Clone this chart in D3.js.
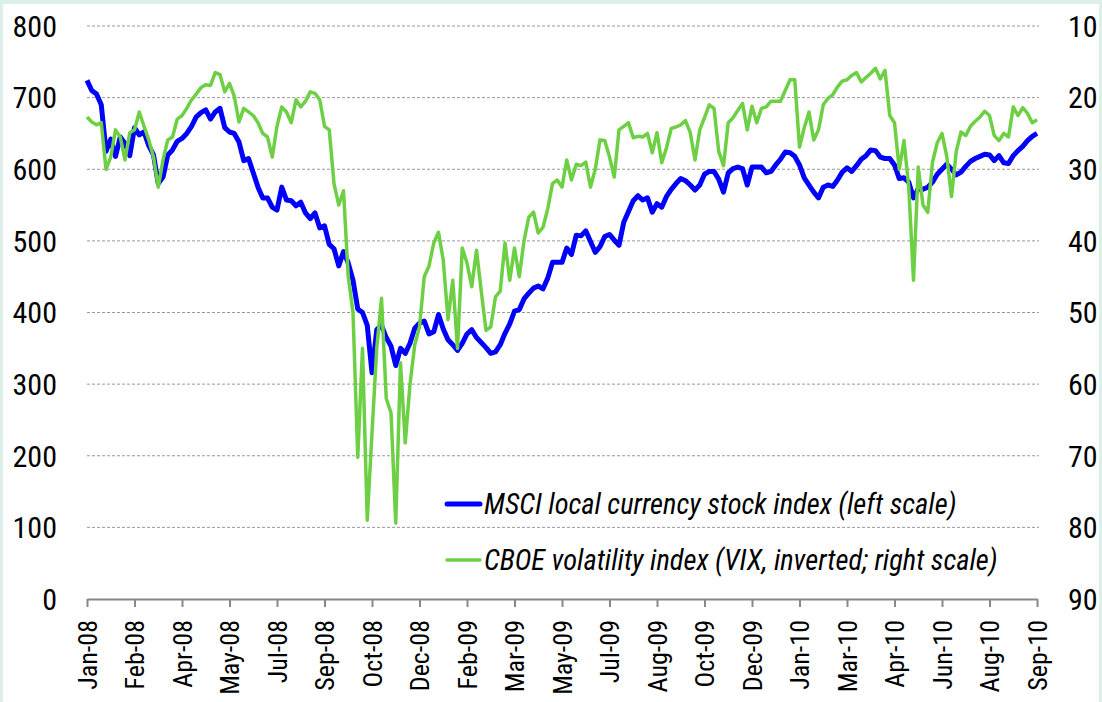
<!DOCTYPE html>
<html>
<head>
<meta charset="utf-8">
<script src="https://cdn.jsdelivr.net/npm/d3@7"></script>
<style>
    body { margin: 0; background: #dcf0e9; }
    #chart-area { width: 1102px; height: 702px; }
    text { font-family: "Roboto Condensed", "Liberation Sans Narrow", "DejaVu Sans Condensed", sans-serif; fill: #000; }
</style>
</head>
<body>
<div id="chart-area"></div>
<script>
// x labels, one every 10 points
const xLabels = ['Jan-08', 'Feb-08', 'Apr-08', 'May-08', 'Jul-08', 'Sep-08', 'Oct-08', 'Dec-08',
    'Feb-09', 'Mar-09', 'May-09', 'Jul-09', 'Aug-09', 'Oct-09', 'Dec-09', 'Jan-10',
    'Mar-10', 'Apr-10', 'Jun-10', 'Aug-10', 'Sep-10'];

const leftTicks = [0, 100, 200, 300, 400, 500, 600, 700, 800];
const rightTicks = [10, 20, 30, 40, 50, 60, 70, 80, 90];

// MSCI local currency stock index (left scale)
const msci = [724, 710, 705, 690, 625, 642, 618, 645, 636, 619,
    658, 648, 652, 633, 620, 580, 589, 620, 627, 639,
    643, 650, 660, 673, 679, 683, 670, 680, 685, 658,
    652, 650, 638, 612, 615, 595, 575, 560, 560, 547,
    543, 575, 557, 556, 549, 554, 539, 531, 539, 518,
    521, 495, 489, 465, 485, 469, 445, 405, 400, 382,
    316, 376, 382, 365, 353, 326, 350, 343, 357, 378,
    385, 388, 370, 373, 397, 377, 362, 355, 347, 357,
    370, 376, 365, 358, 351, 343, 345, 355, 371, 384,
    402, 404, 419, 427, 434, 437, 433, 448, 470, 470,
    470, 490, 481, 508, 507, 514, 499, 484, 492, 506,
    509, 501, 494, 526, 541, 556, 563, 557, 560, 540,
    552, 547, 562, 572, 580, 587, 584, 578, 571, 578,
    593, 597, 597, 586, 568, 595, 601, 603, 601, 578,
    603, 603, 603, 595, 597, 606, 614, 624, 623, 618,
    606, 588, 578, 568, 560, 575, 578, 576, 585, 596,
    602, 597, 605, 614, 619, 627, 626, 617, 615, 615,
    606, 587, 588, 582, 560, 573, 572, 575, 582, 593,
    600, 607, 600, 592, 596, 604, 611, 615, 618, 621,
    620, 612, 619, 609, 608, 619, 626, 632, 640, 646, 650];

// CBOE volatility index, VIX (right scale, inverted)
const vix = [22.7, 23.4, 23.8, 23.5, 30.0, 28.3, 24.5, 25.5, 28.7, 24.9,
    24.5, 22.0, 24.0, 25.9, 28.3, 32.5, 28.7, 25.9, 25.5, 23.0,
    22.5, 21.5, 20.3, 19.5, 18.6, 18.2, 18.3, 16.5, 16.8, 19.2,
    18.0, 19.8, 23.4, 21.5, 22.0, 22.5, 23.5, 25.0, 25.5, 28.3,
    24.0, 21.3, 22.0, 23.5, 20.3, 21.3, 20.5, 19.2, 19.4, 20.3,
    24.0, 24.5, 32.0, 35.0, 33.0, 45.0, 50.0, 70.2, 55.0, 79.0,
    66.8, 55.0, 48.0, 62.0, 64.0, 79.4, 57.0, 68.2, 60.0, 54.5,
    52.0, 45.0, 43.5, 40.3, 38.8, 42.7, 51.0, 45.5, 55.0, 41.0,
    43.1, 46.4, 41.3, 47.0, 52.5, 52.0, 47.8, 47.0, 40.3, 45.5,
    41.0, 45.0, 40.0, 36.7, 36.0, 38.9, 38.1, 35.5, 32.0, 31.5,
    32.5, 28.7, 31.5, 29.3, 29.5, 29.0, 32.5, 30.0, 25.9, 26.0,
    28.3, 31.1, 24.5, 24.0, 23.5, 25.6, 25.4, 25.5, 25.0, 27.7,
    24.9, 29.1, 27.0, 24.3, 24.1, 23.8, 23.2, 24.9, 28.7, 24.5,
    22.8, 21.0, 21.5, 27.5, 29.5, 23.5, 22.8, 21.8, 20.8, 24.5,
    21.2, 23.5, 21.5, 21.3, 20.5, 20.5, 20.5, 19.0, 17.5, 17.5,
    26.9, 24.2, 22.0, 25.9, 24.5, 21.0, 20.1, 19.6, 18.5, 17.7,
    17.5, 16.9, 16.5, 17.8, 17.2, 16.6, 15.9, 17.4, 16.2, 22.5,
    23.5, 30.0, 26.0, 32.5, 45.5, 29.7, 35.0, 36.0, 29.0, 26.3,
    25.0, 28.2, 33.8, 27.5, 24.8, 25.3, 24.0, 23.3, 22.7, 21.9,
    22.5, 25.3, 26.0, 25.0, 25.5, 21.3, 22.5, 21.4, 22.2, 23.5, 23.1];

const margin = { left: 87, right: 65, top: 26, bottom: 103 };
const width = 1102 - margin.left - margin.right;
const height = 702 - margin.top - margin.bottom;

const svg = d3.select('#chart-area')
    .append('svg')
    .attr('width', 1102)
    .attr('height', 702);

// white panel on the mint background
svg.append('rect')
    .attr('x', 3).attr('y', 4)
    .attr('width', 1096).attr('height', 698)
    .attr('fill', '#fff');

const g = svg.append('g')
    .attr('transform', 'translate(' + margin.left + ', ' + margin.top + ')');

const x = d3.scaleLinear()
    .domain([0, msci.length - 1])
    .range([0, width]);

const yLeft = d3.scaleLinear()
    .domain([0, 800])
    .range([height, 0]);

const yRight = d3.scaleLinear()
    .domain([10, 90])
    .range([0, height]);

// gridlines
g.selectAll('.grid')
    .data(leftTicks.filter(d => d > 0))
    .enter()
    .append('line')
    .attr('x1', 0)
    .attr('x2', width + 2)
    .attr('y1', d => yLeft(d))
    .attr('y2', d => yLeft(d))
    .attr('stroke', '#999')
    .attr('stroke-width', 1)
    .attr('stroke-dasharray', '3,2');

// left labels
g.selectAll('.lt')
    .data(leftTicks)
    .enter()
    .append('text')
    .attr('x', -30)
    .attr('y', d => yLeft(d))
    .attr('dy', '0.36em')
    .attr('text-anchor', 'end')
    .attr('font-size', 30)
    .text(d => d);

// right labels
g.selectAll('.rt')
    .data(rightTicks)
    .enter()
    .append('text')
    .attr('x', width + 31)
    .attr('y', d => yRight(d))
    .attr('dy', '0.36em')
    .attr('text-anchor', 'start')
    .attr('font-size', 30)
    .text(d => d);

// x axis
const xAxis = d3.axisBottom(x)
    .tickValues(xLabels.map((d, i) => i * 10))
    .tickFormat((d) => xLabels[d / 10])
    .tickSize(8)
    .tickSizeOuter(0);

const xg = g.append('g')
    .attr('transform', 'translate(0, ' + height + ')')
    .call(xAxis);

xg.select('.domain').attr('stroke', '#888').attr('stroke-width', 2);
xg.selectAll('.tick line').attr('stroke', '#888').attr('stroke-width', 2);
xg.selectAll('.tick text')
    .attr('font-size', 26)
    .attr('text-anchor', 'end')
    .attr('transform', 'rotate(-90)')
    .attr('x', -21)
    .attr('y', 0)
    .attr('dy', '0.35em');

// lines
const vixLine = d3.line()
    .x((d, i) => x(i))
    .y(d => yRight(d));

const msciLine = d3.line()
    .x((d, i) => x(i))
    .y(d => yLeft(d));

g.append('path')
    .datum(msci)
    .attr('fill', 'none')
    .attr('stroke', '#0000ff')
    .attr('stroke-width', 5)
    .attr('stroke-linejoin', 'round')
    .attr('d', msciLine);

g.append('path')
    .datum(vix)
    .attr('fill', 'none')
    .attr('stroke', '#6dd044')
    .attr('stroke-width', 3.5)
    .attr('stroke-linejoin', 'round')
    .attr('d', vixLine);

// legend
const legend = [
    { name: 'MSCI local currency stock index (left scale)', color: '#0000ff', w: 5 },
    { name: 'CBOE volatility index (VIX, inverted; right scale)', color: '#6dd044', w: 3.5 }
];

const lg = g.selectAll('.legend')
    .data(legend)
    .enter()
    .append('g')
    .attr('transform', (d, i) => 'translate(' + (447 - margin.left) + ', ' + (504 - margin.top + i * 56) + ')');

lg.append('line')
    .attr('x1', 0)
    .attr('x2', 33)
    .attr('stroke', d => d.color)
    .attr('stroke-width', d => d.w)
    .attr('stroke-linecap', 'round');

lg.append('text')
    .attr('x', 37)
    .attr('dy', '0.36em')
    .attr('font-size', 28.5)
    .attr('font-style', 'italic')
    .text(d => d.name);
</script>
</body>
</html>
